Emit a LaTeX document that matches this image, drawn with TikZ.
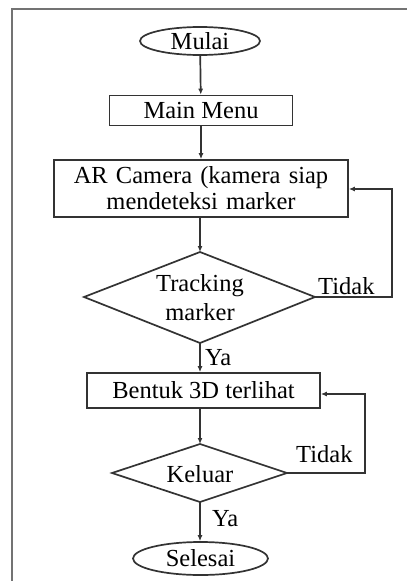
\documentclass[tikz,border=0pt]{standalone}
\usepackage{fontspec}
\setmainfont{Liberation Serif}
\usetikzlibrary{arrows.meta,shapes.geometric}
\begin{document}
\begin{tikzpicture}[x=1pt,y=-1pt,
  every node/.style={font=\fontsize{24.5}{27}\selectfont, text=black},
  line/.style={draw=black!80, line width=1.7pt},
  arr/.style={line, -{Latex[length=6pt,width=5pt]}},
  term/.style={line, ellipse, inner sep=0pt},
  proc/.style={line, rectangle, inner sep=0pt},
  lbl/.style={inner sep=0pt}]
\useasboundingbox (0,0) rectangle (407,581);
\draw[draw=black!55, line width=2.8pt] (12,581) -- (12,9) -- (407,9);

\node[term, minimum width=120pt, minimum height=28pt] (mulai) at (200,41) {Mulai};
\node[proc, minimum width=183pt, minimum height=30pt] (menu) at (201,110.5) {Main Menu};
\node[proc, minimum width=294pt, minimum height=57pt, align=center, text width=290pt] (ar) at (201,188.5)
  {AR Camera (kamera siap\\[-1pt] mendeteksi marker};
\coordinate (tT) at (200,252);
\coordinate (tL) at (84,297);
\coordinate (tR) at (315,297);
\coordinate (tB) at (200,343);
\draw[line, line join=miter] (tT) -- (tR) -- (tB) -- (tL) -- cycle;
\node[lbl, align=center] (trktext) at (200,298) {Tracking\\[2pt] marker};
\node[proc, minimum width=233pt, minimum height=35pt] (bentuk) at (203.5,390.5) {Bentuk 3D terlihat};
\coordinate (kT) at (200,444);
\coordinate (kL) at (112,473);
\coordinate (kR) at (287,473);
\coordinate (kB) at (200,502);
\draw[line, line join=miter] (kT) -- (kR) -- (kB) -- (kL) -- cycle;
\node[lbl] (keluar) at (200,474) {Keluar};
\node[term, minimum width=135pt, minimum height=33pt] (selesai) at (200.5,558.5) {Selesai};

\draw[arr] (mulai) -- (menu);
\draw[arr] (menu.south) -- (ar.north -| menu.south);
\draw[arr] (ar.south -| tT) -- (tT);
\draw[arr] (tB) -- (bentuk.north -| tB);
\draw[arr] (bentuk.south -| kT) -- (kT);
\draw[arr] (kB) -- (selesai.north -| kB);

\coordinate (r1) at (392,297);
\coordinate (r1t) at (392,189);
\draw[arr] (tR) -- (r1) -- (r1t) -- (r1t -| ar.east);
\coordinate (r2) at (365,473);
\coordinate (r2t) at (365,394);
\draw[arr] (kR) -- (r2) -- (r2t) -- (r2t -| bentuk.east);

\node[lbl, anchor=base west] (tidak1) at (318,294) {Tidak};
\node[lbl, anchor=base west] (tidak2) at (296,462) {Tidak};
\node[lbl, anchor=base west] (ya1) at (205,365) {Ya};
\node[lbl, anchor=base west] (ya2) at (212,526) {Ya};
\end{tikzpicture}
\end{document}
